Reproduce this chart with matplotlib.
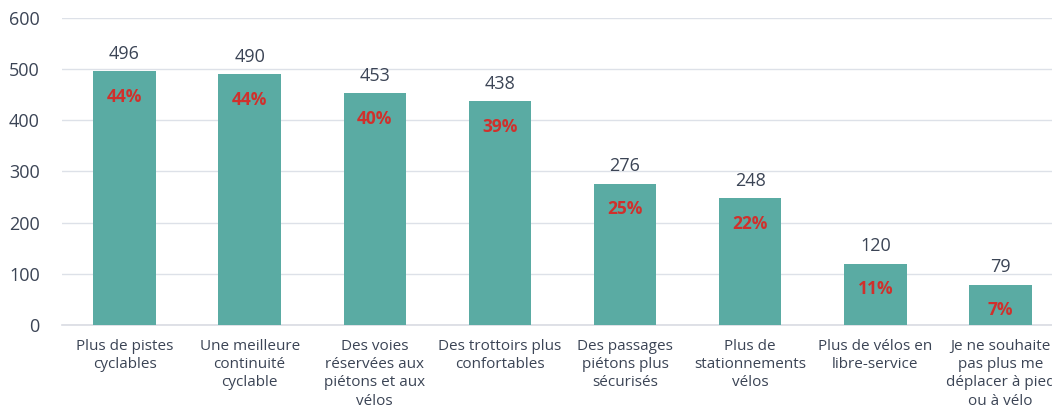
import matplotlib.pyplot as plt
from matplotlib.transforms import offset_copy

categories = ['Plus de pistes\ncyclables', 'Une meilleure\ncontinuité\ncyclable',
              'Des voies\nréservées aux\npiétons et aux\nvélos', 'Des trottoirs plus\nconfortables',
              'Des passages\npiétons plus\nsécurisés', 'Plus de\nstationnements\nvélos',
              'Plus de vélos en\nlibre-service', 'Je ne souhaite\npas plus me\ndéplacer à pied\nou à vélo']
values = [496, 490, 453, 438, 276, 248, 120, 79]
percents = ['44%', '44%', '40%', '39%', '25%', '22%', '11%', '7%']
yticks = [0, 100, 200, 300, 400, 500, 600]

plt.rcParams['font.family'] = ['Open Sans', 'DejaVu Sans']

fig = plt.figure(figsize=(10.52, 4.19), dpi=100)
ax = fig.add_axes([62/1052, 94/419, 1001/1052, 307/419])

x = list(range(len(values)))
ax.bar(x, values, width=0.5, color='#5aaba3', zorder=3)

for xi, v, p in zip(x, values, percents):
    ax.text(xi, v, str(v), ha='center', va='bottom', fontsize=13, color='#3b4455',
            transform=offset_copy(ax.transData, fig=fig, y=6, units='points'))
    ax.text(xi, v, p, ha='center', va='top', fontsize=12.5, color='#d0302c', fontweight='bold',
            transform=offset_copy(ax.transData, fig=fig, y=-12, units='points'), zorder=4)

ax.set_xlim(-0.5, 7.5)
ax.set_ylim(0, 600)
ax.set_yticks(yticks)
ax.set_xticks(x)
ax.set_xticklabels(categories, fontsize=11, color='#3b4455', linespacing=1.3)
ax.tick_params(axis='y', labelsize=13, labelcolor='#3b4455', length=0, pad=16)
ax.tick_params(axis='x', length=0, pad=10)
ax.grid(True, axis='y', color='#dde1e8', lw=1, zorder=0)
for s in ['top', 'right', 'left']:
    ax.spines[s].set_visible(False)
ax.spines['bottom'].set_color('#d9dce3')
ax.spines['bottom'].set_linewidth(1.2)

fig.savefig('out.png', dpi=100)
